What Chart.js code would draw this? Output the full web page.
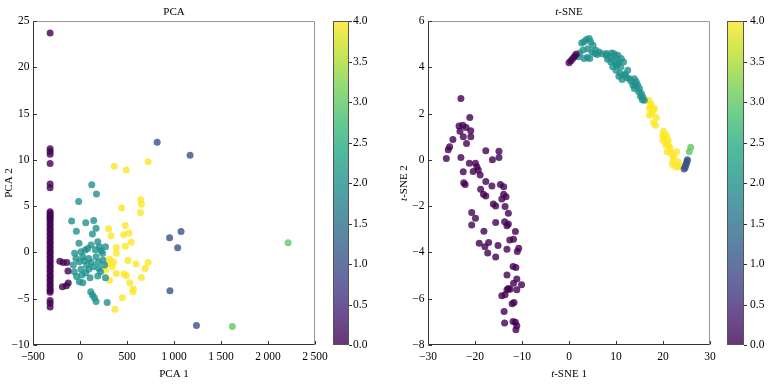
<!DOCTYPE html>
<html>
<head>
<meta charset="utf-8">
<script src="https://cdn.jsdelivr.net/npm/chart.js@4.4.1/dist/chart.umd.min.js"></script>
<style>
  html, body { margin: 0; padding: 0; background: #fff; }
  #wrap { position: relative; width: 773px; height: 384px; }
  canvas { position: absolute; top: 0; }
</style>
</head>
<body>
<div id="wrap">
  <canvas id="pcaChart" width="383" height="384" style="left:0"></canvas>
  <canvas id="tsneChart" width="390" height="384" style="left:383px"></canvas>
</div>
<script>
// class values (colour = viridis(value / 4))
const classValues = [0, 1, 2, 3, 4];

// ---- PCA points, one list per class, [PCA 1, PCA 2]
const pca0 = [
  [-318, 23.7], [-318, 11.2], [-318, 10.9], [-318, 10.6], [-318, 9.6], [-318, 7.4], [-318, 7.0],
  [-318, 4.4], [-318, 4.2], [-318, 4.0], [-318, 3.8], [-318, 3.6], [-318, 3.4], [-318, 3.1],
  [-318, 2.9], [-318, 2.6], [-318, 2.4], [-318, 2.1], [-318, 1.9], [-318, 1.6], [-318, 1.4],
  [-318, 1.1], [-318, 0.9], [-318, 0.6], [-318, 0.4], [-318, 0.1], [-318, -0.1], [-318, -0.4],
  [-318, -0.6], [-318, -0.9], [-318, -1.1], [-318, -1.4], [-318, -1.6], [-318, -1.9], [-318, -2.1],
  [-318, -2.4], [-318, -2.6], [-318, -2.9], [-318, -3.1], [-318, -3.4], [-318, -3.6], [-318, -3.9],
  [-318, -4.1], [-318, -4.3], [-318, -5.2], [-318, -5.5], [-318, -5.9],
  [-215, -0.95], [-180, -1.1], [-140, -1.1], [-128, -2.0], [-187, -3.7], [-145, -3.6], [-125, -3.3]
];
const pca1 = [[821, 11.9], [1171, 10.5], [1075, 2.27], [953, 1.58], [1039, 0.5], [957, -4.14], [1239, -7.9]];
const pca2 = [
  [125, 7.3], [175, 6.3], [-14, 5.5], [-89, 3.4], [61, 3.2], [146, 3.45], [-39, 2.3], [171, 2.6],
  [132, 2.0], [-11, 1.0], [189, 1.15], [118, 0.8], [207, 0.6], [271, 0.6], [-57, -0.1], [11, 0.07],
  [57, 0.25], [82, 0.43], [164, 0.3], [225, 0.18], [-43, -0.65], [29, -0.47], [93, -0.65], [171, -0.47],
  [243, -0.83], [-71, -1.37], [-7, -1.0], [71, -1.37], [143, -1.55], [200, -1.73], [261, -1.37],
  [-61, -2.1], [11, -1.83], [93, -1.83], [218, -2.1], [-36, -2.6], [21, -2.45], [107, -2.73],
  [189, -2.55], [271, -2.73], [-7, -3.17], [29, -3.27], [114, -4.24], [132, -4.6], [154, -4.9],
  [171, -5.3], [289, -5.4], [45, -0.9], [120, -1.1], [195, -1.05], [240, -0.1], [60, -2.2]
];
const pca3 = [[2214, 1.04], [1621, -8.0]];
const pca4 = [
  [364, 9.3], [493, 8.9], [725, 9.8], [443, 4.8], [646, 5.7], [653, 5.2], [643, 4.3], [304, 2.55],
  [482, 2.9], [521, 2.1], [464, 1.9], [329, 1.8], [546, 1.1], [482, 0.68], [386, 0.54], [386, -0.1],
  [314, -0.75], [357, -1.0], [343, -1.55], [386, -2.27], [314, -3.0], [511, -0.86], [596, -1.26],
  [725, -1.08], [693, -1.73], [653, -2.7], [468, -2.34], [493, -2.48], [529, -3.27], [568, -3.96],
  [561, -4.24], [450, -4.9], [371, -6.15], [296, -1.19], [271, -1.9]
];

// ---- t-SNE points, one list per class, [t-SNE 1, t-SNE 2]
const tsne0 = [
  [-23.0, 2.65], [-21.1, 1.83], [-23.4, 1.46], [-22.6, 1.5], [-21.9, 1.4], [-20.9, 1.26], [-23.2, 1.24],
  [-24.7, 0.88], [-25.4, 0.57], [-25.7, 0.44], [-26.1, 0.06], [-23.0, 0.1], [-22.5, 1.0], [-21.8, 0.71],
  [-20.9, 1.0], [-17.7, 0.39], [-14.9, 0.37], [-14.9, 0.1], [-16.3, 0.01], [-21.2, -0.15], [-19.9, -0.15],
  [-19.6, -0.3], [-19.3, -0.44], [-20.4, -0.5], [-22.5, -0.51], [-18.9, -0.65], [-22.4, -0.99],
  [-22.1, -1.06], [-17.7, -0.94], [-16.4, -1.13], [-14.6, -1.06], [-13.9, -1.16], [-18.8, -1.27],
  [-18.2, -1.49], [-17.7, -1.56], [-13.9, -1.49], [-13.4, -1.59], [-14.3, -1.69], [-16.1, -1.91],
  [-15.6, -1.99], [-13.6, -2.02], [-12.9, -2.31], [-20.7, -2.27], [-19.9, -2.52], [-20.7, -2.81],
  [-15.6, -2.71], [-13.7, -2.67], [-13.2, -2.85], [-12.9, -2.77], [-18.1, -3.08], [-11.4, -3.1],
  [-12.6, -3.46], [-11.8, -3.43], [-19.1, -3.6], [-17.1, -3.57], [-17.9, -3.75], [-17.3, -4.03],
  [-15.1, -3.7], [-13.2, -3.86], [-10.7, -3.82], [-11.0, -3.96], [-15.6, -4.2], [-11.9, -4.61],
  [-11.3, -4.65], [-13.2, -4.97], [-11.1, -5.15], [-11.8, -5.33], [-10.1, -5.4], [-12.9, -5.56],
  [-13.2, -5.61], [-12.5, -5.59], [-11.1, -5.61], [-14.3, -5.87], [-13.6, -5.83], [-12.1, -6.22],
  [-11.7, -6.16], [-13.8, -6.55], [-13.7, -7.05], [-11.9, -6.98], [-11.4, -7.02], [-11.1, -7.17],
  [-11.3, -7.34],
  [0.0, 4.2], [0.4, 4.28], [0.8, 4.38], [1.2, 4.48], [1.5, 4.56]
];
const tsne1 = [[24.5, -0.4], [24.7, -0.33], [24.8, -0.24], [25.0, -0.15], [25.1, -0.06], [25.2, 0.0]];
const tsne2 = [
  [2.3, 4.62], [2.7, 5.05], [3.2, 5.1], [3.7, 5.2], [4.3, 5.24], [4.6, 5.1], [5.1, 4.95], [3.2, 4.38],
  [3.9, 4.42], [4.4, 4.38], [4.9, 4.66], [5.7, 4.74], [6.4, 4.66], [7.1, 4.59], [7.9, 4.52], [9.1, 4.62],
  [9.6, 4.59], [10.4, 4.52], [11.1, 4.38], [11.6, 4.23], [8.9, 4.23], [9.3, 4.02], [10.0, 3.87],
  [10.9, 3.73], [11.8, 3.66], [12.5, 3.87], [12.9, 3.51], [13.9, 3.51], [14.3, 3.37], [14.6, 3.23],
  [15.0, 3.08], [15.4, 2.87], [15.7, 2.72], [16.0, 2.58], [13.6, 3.23], [13.9, 3.08], [11.3, 3.47],
  [10.6, 3.61], [10.1, 4.09], [10.7, 4.23], [8.6, 4.45],
  [4.0, 4.8], [5.5, 4.6], [6.0, 4.55], [8.2, 4.35], [9.5, 4.3], [10.3, 4.15], [11.0, 4.0], [12.0, 3.7],
  [12.3, 3.55], [13.2, 3.4], [14.1, 3.2], [14.8, 2.95], [15.2, 2.75], [15.6, 2.6], [3.0, 4.75],
  [2.0, 4.45], [8.0, 4.6], [9.9, 4.45]
];
const tsne3 = [[25.6, 0.35], [25.9, 0.54]];
const tsne4 = [
  [16.9, 2.58], [17.5, 2.36], [17.1, 2.22], [17.9, 2.15], [18.2, 2.22], [17.1, 1.93], [18.6, 1.82],
  [18.4, 1.5], [20.1, 1.24], [20.7, 1.07], [20.0, 0.85], [21.1, 0.85], [20.6, 0.64], [21.4, 0.57],
  [20.9, 0.35], [21.8, 0.28], [22.9, 0.35], [22.1, -0.01], [23.2, -0.08], [22.7, -0.3], [23.6, -0.27],
  [17.3, 2.45], [17.7, 2.0], [18.0, 1.6], [19.9, 1.05], [20.3, 0.95], [21.5, 0.45], [22.3, 0.15],
  [22.0, -0.2], [23.3, -0.3], [21.0, 0.7]
];

// viridis colormap stops
const viridis = ['#440154', '#482475', '#414487', '#355f8d', '#2a788e', '#21918c',
                 '#22a884', '#44bf70', '#7ad151', '#bddf26', '#fde725'];

const FONT = '"Liberation Serif", "Times New Roman", serif';

function hexToRgb(h) {
  return [parseInt(h.slice(1, 3), 16), parseInt(h.slice(3, 5), 16), parseInt(h.slice(5, 7), 16)];
}
function viridisAt(t, alpha) {
  const p = t * (viridis.length - 1);
  const i = Math.min(Math.floor(p), viridis.length - 2);
  const f = p - i;
  const a = hexToRgb(viridis[i]), b = hexToRgb(viridis[i + 1]);
  const c = a.map((v, k) => Math.round(v + (b[k] - v) * f));
  return 'rgba(' + c.join(',') + ',' + alpha + ')';
}
function fmtNum(v, dec) {
  let s = Math.abs(v).toFixed(dec);
  if (Math.abs(v) >= 1000) s = s.slice(0, -3) + '\u2009' + s.slice(-3);
  return (v < 0 ? '\u2212' : '') + s;
}
function line(ctx, x1, y1, x2, y2, color) {
  ctx.strokeStyle = color;
  ctx.beginPath();
  ctx.moveTo(x1, y1);
  ctx.lineTo(x2, y2);
  ctx.stroke();
}
// text with italic parts, e.g. [['t', true], ['-SNE', false]]
function rich(ctx, parts, x, y, rot, size) {
  ctx.save();
  ctx.translate(x, y);
  ctx.rotate(rot);
  ctx.textBaseline = 'middle';
  ctx.textAlign = 'left';
  ctx.fillStyle = '#000';
  const fonts = parts.map(p => (p[1] ? 'italic ' : '') + size + 'px ' + FONT);
  let w = 0;
  parts.forEach((p, i) => { ctx.font = fonts[i]; w += ctx.measureText(p[0]).width; });
  let cx = -w / 2;
  parts.forEach((p, i) => {
    ctx.font = fonts[i];
    ctx.fillText(p[0], cx, 0);
    cx += ctx.measureText(p[0]).width;
  });
  ctx.restore();
}

const decor = {
  id: 'decor',
  afterDraw(chart, args, o) {
    const {ctx, chartArea: a} = chart;
    const sx = chart.scales.x, sy = chart.scales.y, cb = chart.scales.cb;
    const L = Math.round(a.left) + 0.5, R = Math.round(a.right) - 0.5;
    const T = Math.round(a.top) + 0.5, B = Math.round(a.bottom) - 0.5;
    ctx.save();
    ctx.lineWidth = 1;
    line(ctx, L, T, R, T, '#999');
    line(ctx, R, T, R, B, '#999');
    line(ctx, L, T, L, B, '#333');
    line(ctx, L, B, R, B, '#333');
    // inward ticks
    sx.ticks.forEach(t => {
      const p = Math.round(sx.getPixelForValue(t.value)) + 0.5;
      line(ctx, p, B, p, B - 3.5, '#333');
    });
    sy.ticks.forEach(t => {
      const p = Math.round(sy.getPixelForValue(t.value)) + 0.5;
      line(ctx, L, p, L + 3.5, p, '#333');
    });
    // colour bar
    const x0 = Math.round(a.right + o.cbGap), w = o.cbWidth;
    const yTop = cb.getPixelForValue(cb.max), yBot = cb.getPixelForValue(cb.min);
    const g = ctx.createLinearGradient(0, yBot, 0, yTop);
    for (let i = 0; i <= 20; i++) g.addColorStop(i / 20, viridisAt(i / 20, 0.8));
    ctx.fillStyle = g;
    ctx.fillRect(x0, yTop, w, yBot - yTop);
    ctx.strokeStyle = '#555';
    ctx.strokeRect(x0 + 0.5, Math.round(yTop) + 0.5, w - 1, Math.round(yBot - yTop) - 1);
    cb.ticks.forEach(t => {
      const p = Math.round(cb.getPixelForValue(t.value)) + 0.5;
      line(ctx, x0 + w, p, x0 + w + 3, p, '#333');
    });
    // titles
    const cx = (a.left + a.right) / 2;
    rich(ctx, o.title, cx, 11.7, 0, 11);
    rich(ctx, o.xTitle, cx, 374, 0, 11);
    rich(ctx, o.yTitle, o.yTitleX, (a.top + a.bottom) / 2, -Math.PI / 2, 11);
    ctx.restore();
  }
};

function makeChart(id, sets, o) {
  const tickFont = {family: FONT, size: 11.5};
  return new Chart(id, {
    type: 'scatter',
    data: {
      datasets: classValues.map((c, i) => ({
        data: sets[i].map(p => ({x: p[0], y: p[1]})),
        backgroundColor: viridisAt(c / 4, 0.8),
        pointRadius: 3.5,
        borderWidth: 0
      }))
    },
    options: {
      responsive: false,
      animation: false,
      events: [],
      layout: {padding: {top: 21, left: 0, right: 0, bottom: 0}},
      plugins: {
        legend: {display: false},
        tooltip: {enabled: false},
        decor: o.decor
      },
      scales: {
        x: {
          type: 'linear', min: o.xMin, max: o.xMax,
          ticks: {stepSize: o.xStep, font: tickFont, color: '#000', padding: 5, maxRotation: 0,
                  autoSkip: false, callback: v => fmtNum(v, 0)},
          grid: {display: false, drawTicks: false},
          border: {display: false},
          afterFit: s => { s.height = 39; }
        },
        y: {
          type: 'linear', position: 'left', min: o.yMin, max: o.yMax,
          ticks: {stepSize: o.yStep, font: tickFont, color: '#000', padding: 3.5,
                  autoSkip: false, callback: v => fmtNum(v, 0)},
          grid: {display: false, drawTicks: false},
          border: {display: false},
          afterFit: s => { s.width = o.yWidth; s.paddingTop = 0; s.paddingBottom = 0; }
        },
        cb: {
          type: 'linear', position: 'right', min: 0, max: 4,
          ticks: {stepSize: 0.5, font: tickFont, color: '#000', padding: o.cbPad,
                  autoSkip: false, callback: v => v.toFixed(1)},
          grid: {display: false, drawTicks: false},
          border: {display: false},
          // the large label padding must not push the plot area inward
          afterFit: s => { s.width = o.cbAxisWidth; s.paddingTop = 0; s.paddingBottom = 0; }
        }
      }
    },
    plugins: [decor]
  });
}

makeChart('pcaChart', [pca0, pca1, pca2, pca3, pca4], {
  xMin: -500, xMax: 2500, xStep: 500,
  yMin: -10, yMax: 25, yStep: 5,
  yWidth: 33, cbAxisWidth: 68, cbPad: 38,
  decor: {
    cbGap: 18, cbWidth: 16,
    title: [['PCA', false]],
    xTitle: [['PCA 1', false]],
    yTitle: [['PCA 2', false]],
    yTitleX: 8.7
  }
});

makeChart('tsneChart', [tsne0, tsne1, tsne2, tsne3, tsne4], {
  xMin: -30, xMax: 30, xStep: 10,
  yMin: -8, yMax: 6, yStep: 2,
  yWidth: 45, cbAxisWidth: 63, cbPad: 40,
  decor: {
    cbGap: 17, cbWidth: 17,
    title: [['t', true], ['-SNE', false]],
    xTitle: [['t', true], ['-SNE 1', false]],
    yTitle: [['t', true], ['-SNE 2', false]],
    yTitleX: 20.7
  }
});
</script>
</body>
</html>
